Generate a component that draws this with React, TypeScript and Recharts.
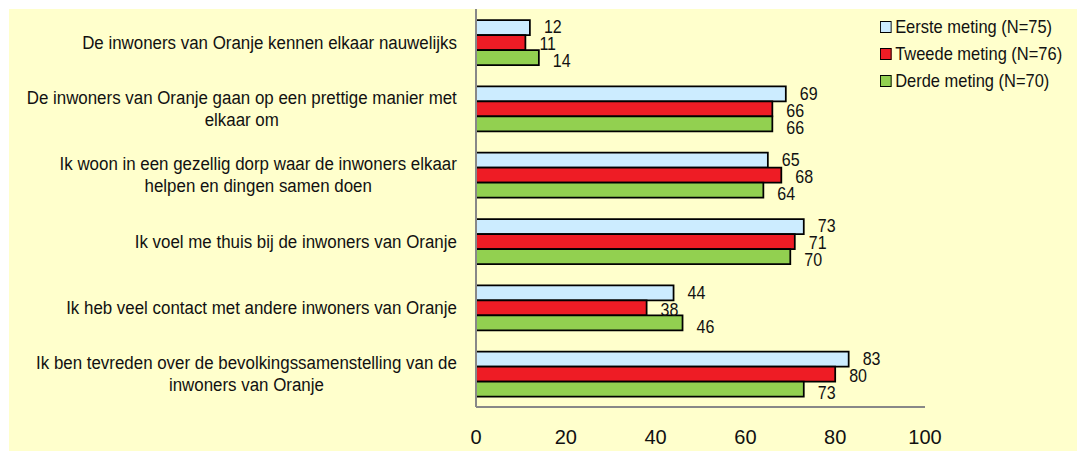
import { BarChart, Bar, XAxis, YAxis, Legend, LabelList } from "recharts";

const FONT = "'Liberation Sans', Arial, sans-serif";
// the reference text is slightly condensed horizontally
const SQUEEZE = 0.89;

const statements = [
  "De inwoners van Oranje kennen elkaar nauwelijks",
  "De inwoners van Oranje gaan op een prettige manier met elkaar om",
  "Ik woon in een gezellig dorp waar de inwoners elkaar helpen en dingen samen doen",
  "Ik voel me thuis bij de inwoners van Oranje",
  "Ik heb veel contact met andere inwoners van Oranje",
  "Ik ben tevreden over de bevolkingssamenstelling van de inwoners van Oranje",
];
const eersteMeting = [12, 69, 65, 73, 44, 83];
const tweedeMeting = [11, 66, 68, 71, 38, 80];
const derdeMeting = [14, 66, 64, 70, 46, 73];
const xTicks = [0, 20, 40, 60, 80, 100];

const series = [
  { key: "eerste", name: "Eerste meting (N=75)", color: "#CCECFF", labelDy: 0 },
  { key: "tweede", name: "Tweede meting (N=76)", color: "#EE1C25", labelDy: 2 },
  { key: "derde", name: "Derde meting (N=70)", color: "#92D050", labelDy: 4 },
];

const data = statements.map((name, i) => ({
  name,
  eerste: eersteMeting[i],
  tweede: tweedeMeting[i],
  derde: derdeMeting[i],
}));

let ctx: CanvasRenderingContext2D | null = null;
function measure(text: string) {
  if (!ctx) {
    ctx = document.createElement("canvas").getContext("2d");
    if (ctx) ctx.font = `19px ${FONT}`;
  }
  return (ctx ? ctx.measureText(text).width : text.length * 9) * SQUEEZE;
}

function wrap(text: string, maxWidth: number) {
  const lines: string[] = [];
  let line = "";
  for (const word of text.split(" ")) {
    const next = line ? `${line} ${word}` : word;
    if (line && measure(next) > maxWidth) {
      lines.push(line);
      line = word;
    } else {
      line = next;
    }
  }
  if (line) lines.push(line);
  return lines;
}

function StatementTick({ x, y, payload }: any) {
  const lines = wrap(payload.value, 440);
  const w = Math.max(...lines.map(measure)) / SQUEEZE;
  const lh = 22;
  const top = -((lines.length - 1) * lh) / 2;
  return (
    <g transform={`translate(${x},${y}) scale(${SQUEEZE},1)`}>
      <text textAnchor="middle" fontSize={19} fill="#111" fontFamily={FONT}>
        {lines.map((l, i) => (
          <tspan key={i} x={-w / 2} y={top + i * lh} dominantBaseline="central">
            {l}
          </tspan>
        ))}
      </text>
    </g>
  );
}

function valueLabel(dy: number) {
  return ({ x, y, width, height, value }: any) => (
    <text
      transform={`translate(${x + width + 14},${y + height / 2 + dy}) scale(${SQUEEZE},1)`}
      dominantBaseline="central"
      fontSize={18}
      fill="#111"
      fontFamily={FONT}
    >
      {value}
    </text>
  );
}

function MetingLegend() {
  return (
    <div
      style={{
        fontFamily: FONT,
        fontSize: 18.5,
        color: "#111",
        transform: `scaleX(${SQUEEZE})`,
        transformOrigin: "left top",
        whiteSpace: "nowrap",
        width: 230,
      }}
    >
      {series.map((s) => (
        <div key={s.key} style={{ display: "flex", alignItems: "center", height: 27 }}>
          <span
            style={{
              display: "inline-block",
              flexShrink: 0,
              width: 11,
              height: 10,
              border: "1.5px solid #000",
              background: s.color,
              marginRight: 4,
            }}
          />
          <span>{s.name}</span>
        </div>
      ))}
    </div>
  );
}

export default function App() {
  return (
    <div style={{ position: "fixed", inset: 0, background: "#fff", overflow: "hidden" }}>
      <div style={{ position: "absolute", left: 9, top: 9, width: 1068, height: 442, background: "#FFFFCC" }}>
        <BarChart
          width={1068}
          height={442}
          data={data}
          layout="vertical"
          margin={{ top: 0, right: 152, bottom: 0, left: 0 }}
          barGap={0}
          style={{ fontFamily: FONT }}
        >
          <XAxis
            type="number"
            domain={[0, 100]}
            ticks={xTicks}
            height={44}
            tickLine={false}
            tickSize={0}
            tickMargin={23}
            axisLine={{ stroke: "#888", strokeWidth: 2 }}
            tick={{ fontSize: 20, fill: "#111", fontFamily: FONT }}
          />
          <YAxis
            type="category"
            dataKey="name"
            width={467}
            tickLine={false}
            tickSize={0}
            tickMargin={19}
            axisLine={{ stroke: "#888", strokeWidth: 2 }}
            tick={<StatementTick />}
            interval={0}
          />
          <Legend
            layout="vertical"
            align="center"
            verticalAlign="middle"
            content={<MetingLegend />}
            wrapperStyle={{ top: 4, left: 871, width: 197 }}
          />
          {series.map((s) => (
            <Bar
              key={s.key}
              dataKey={s.key}
              name={s.name}
              fill={s.color}
              stroke="#000"
              strokeWidth={1.75}
              barSize={15}
              isAnimationActive={false}
            >
              <LabelList dataKey={s.key} content={valueLabel(s.labelDy)} />
            </Bar>
          ))}
        </BarChart>
      </div>
    </div>
  );
}
